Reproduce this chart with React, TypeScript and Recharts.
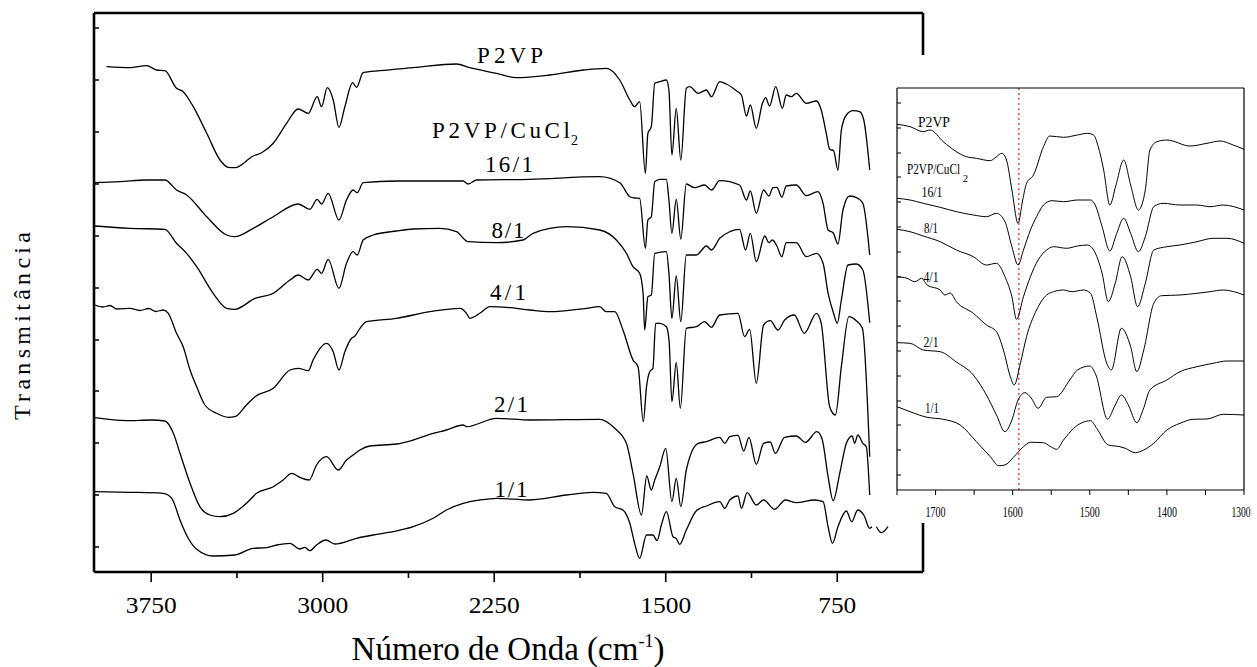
import React from 'react';
import { LineChart, Line, XAxis, YAxis, ReferenceLine } from 'recharts';

type Pt = [number, number | null];

const FONT = '"Liberation Serif", "Times New Roman", serif';

// ---------- axes ----------
const MAIN_X_TICKS = [3750, 3375, 3000, 2625, 2250, 1875, 1500, 1125, 750];
const MAIN_X_LABELS = [3750, 3000, 2250, 1500, 750];
const MAIN_Y_TICKS = [25, 77, 129, 181, 232, 284, 336, 388, 440, 492, 544];
const INSET_X_TICKS = [1750, 1700, 1650, 1600, 1550, 1500, 1450, 1400, 1350, 1300];
const INSET_X_LABELS = [1700, 1600, 1500, 1400, 1300];
const INSET_Y_TICKS = [15, 40, 65, 89, 114, 139, 164, 189, 213, 238, 263, 288, 313, 337, 362, 387];
const MARKER_WN = 1592;

// ---------- main spectra: [wavenumber cm-1, offset transmittance (a.u.)] ----------
const MAIN_P2VP: Pt[] = [[3945,505.3],[3843,504.3],[3770,506.3],[3726,502],[3690,501.3],[3639,483.7],[3610,480.3],[3566,465.3],[3507,438.7],[3449,412],[3413,404.7],[3384,404.3],[3304,416],[3267,419.3],[3216,428.7],[3158,448.7],[3107,463],[3063,458.7],[3024,475.3],[3005,465.3],[2980,484.3],[2954,472],[2929,444.7],[2903,465.3],[2869,489.3],[2852,484.7],[2823,499.3],[2750,501.3],[2604,504.3],[2415,508],[2357,504.3],[2240,498.7],[2153,494.3],[2007,497],[1861,502],[1759,503.7],[1701,492],[1657,472],[1636,465.3],[1614,470.3],[1589,398.7],[1578,438.7],[1563,445.3],[1548,488.7],[1526,490.3],[1497,492],[1486,482],[1473,417],[1454,463.7],[1434,412],[1410,483.7],[1395,485.3],[1358,478.7],[1322,482],[1300,475.3],[1264,490.3],[1235,488],[1191,481.3],[1169,477],[1147,456],[1130,467],[1104,443.7],[1077,468.7],[1063,474.3],[1046,466],[1019,485.3],[990,463.7],[973,477],[951,475.3],[929,478.7],[885,468.7],[841,471],[820,462],[798,438.7],[783,422.7],[766,421.3],[747,402],[732,442],[710,457],[681,461.3],[652,460.3],[634,452],[608,402]];

const MAIN_16_1: Pt[] = [[4000,389.3],[3886,390.3],[3770,392],[3690,392],[3639,382],[3595,377],[3507,355.3],[3420,337],[3384,335.3],[3304,343.7],[3216,355.3],[3107,368],[3056,362.7],[3024,372.7],[3005,368],[2976,378.7],[2929,352],[2896,372],[2867,382],[2849,379.3],[2823,389.3],[2677,391],[2459,391],[2386,391],[2364,388],[2327,392],[2094,392.7],[1789,395.3],[1701,389.3],[1657,375.3],[1636,374],[1614,373.7],[1589,323.7],[1578,352],[1563,355.3],[1548,390.3],[1526,392.7],[1497,392.7],[1486,372],[1473,338.7],[1454,372.7],[1434,333],[1410,388],[1374,384.3],[1330,387],[1300,382],[1264,391.3],[1177,387],[1147,372],[1130,381],[1104,358.7],[1072,382],[1049,376],[1031,384.3],[1014,384.7],[992,374.7],[973,386],[929,387],[885,376.3],[834,380.3],[812,368.7],[790,342],[768,339.3],[747,328],[725,362],[696,376],[660,373.7],[638,368.7],[608,317]];

const MAIN_8_1: Pt[] = [[3996,346],[3843,343.7],[3690,342.7],[3639,328.7],[3595,318.7],[3551,305.3],[3479,278.7],[3420,263.7],[3384,262.7],[3296,273.7],[3216,278.7],[3143,292],[3107,297],[3063,292],[3024,302.7],[3005,298.7],[2976,312.7],[2929,283.7],[2896,308.7],[2867,320.3],[2849,317],[2823,332],[2779,337],[2677,341],[2604,343],[2488,343.7],[2415,340.3],[2364,330.3],[2240,329.3],[2124,332],[2080,338.7],[1934,345.3],[1789,342],[1716,332],[1672,318.7],[1643,305.3],[1614,298.7],[1599,278.7],[1592,242],[1578,275.3],[1563,277],[1548,318.7],[1497,320.3],[1486,298.7],[1473,253.7],[1454,296],[1434,250.3],[1410,317],[1366,317],[1322,326],[1300,322],[1264,333.7],[1220,340.3],[1177,342.7],[1151,322],[1130,338.7],[1104,310.3],[1067,336],[1049,329.3],[1034,332],[1016,327],[992,315.3],[973,329.3],[929,329.3],[885,315.3],[841,318.7],[812,308.7],[790,278.7],[766,258.7],[750,248.7],[732,272],[703,307],[667,308],[638,302],[608,249.3]];

const MAIN_4_1: Pt[] = [[3996,267],[3960,265],[3930,266.5],[3900,263],[3843,263.7],[3800,261.5],[3760,263.5],[3730,260.5],[3697,262],[3675,258.7],[3639,238.7],[3610,225.3],[3580,202],[3551,185.3],[3515,167],[3464,158.7],[3413,154.7],[3384,155.3],[3333,167],[3296,175.3],[3216,183.7],[3143,202],[3107,203.7],[3063,201.3],[3042,212],[2983,228.7],[2954,220.3],[2929,202],[2903,220.3],[2874,233.7],[2859,236],[2837,243.7],[2808,250.3],[2677,253.7],[2531,260.3],[2400,263.7],[2371,258.7],[2357,253.7],[2313,258.7],[2269,265.3],[2196,264.7],[2094,262],[2007,260.3],[1847,263.7],[1789,265.3],[1760,260.3],[1723,260.3],[1687,242],[1643,212],[1621,205.3],[1598,150.3],[1584,185.3],[1570,200.3],[1556,203.7],[1544,248.7],[1526,248.7],[1497,245.3],[1485,230],[1473,170.3],[1454,209.3],[1436,163.7],[1410,243.7],[1366,245.3],[1330,250.3],[1300,244.7],[1264,257],[1184,258.7],[1155,235.3],[1133,242.7],[1104,188.7],[1072,247],[1043,251.3],[1009,242],[980,252],[938,257],[894,238.7],[841,258.7],[820,248.7],[783,165.3],[758,157],[732,205.3],[699,255.3],[667,251.3],[640,243.7],[608,115.3]];

const MAIN_2_1: Pt[] = [[3996,154.3],[3857,151.3],[3748,152],[3690,151],[3653,138.7],[3624,118.7],[3580,88.7],[3537,65.3],[3493,57],[3449,55.3],[3391,58.7],[3333,68.7],[3289,78.7],[3216,85.3],[3173,92],[3136,98.7],[3100,94.7],[3059,92],[3027,107],[2983,115.3],[2932,102],[2896,112],[2867,117],[2837,122],[2794,126],[2677,128],[2604,132],[2517,138.7],[2459,142],[2386,147],[2371,145.3],[2240,153.7],[2094,152],[1789,152.7],[1723,143.7],[1672,128.7],[1643,98.7],[1606,57],[1583,96],[1563,82],[1548,92],[1526,105.3],[1500,123.7],[1473,70.3],[1454,93.7],[1434,65.3],[1410,102],[1358,128.7],[1322,130.3],[1264,134.7],[1242,128.7],[1220,135.3],[1184,136.7],[1159,121],[1136,134.7],[1104,107.7],[1072,128.7],[1043,130],[1021,118.7],[980,134.7],[929,136],[889,129.7],[839,140.3],[816,132.7],[790,95.3],[768,71.3],[739,98.7],[710,128.7],[685,136],[674,128.7],[660,137],[638,128.7],[623,125.3],[608,77]];

const MAIN_1_1: Pt[] = [[3996,80.3],[3843,79.7],[3697,78.7],[3660,73.7],[3624,52],[3588,33.7],[3551,22.7],[3479,16],[3384,17],[3304,23.7],[3245,24.3],[3201,27],[3143,28.7],[3100,23],[3078,24.7],[3056,21.3],[3027,27],[2986,32],[2947,28],[2852,33.7],[2779,37],[2692,40.3],[2604,45.3],[2517,53.7],[2459,62],[2386,68.7],[2313,72],[2240,73.7],[2094,72],[1934,77],[1818,79.7],[1760,78.7],[1723,65.3],[1687,62],[1657,48.7],[1636,28.7],[1614,13.7],[1584,37],[1556,37],[1538,31.3],[1519,47],[1497,60.3],[1468,35.3],[1454,33.5],[1439,27.7],[1410,42],[1366,61.3],[1322,66],[1264,70.3],[1242,63.7],[1220,72],[1184,76],[1169,63.7],[1144,79.3],[1104,67],[1072,72],[1024,62.7],[977,72],[929,69.3],[849,72],[812,70.3],[790,45.3],[771,28.7],[747,45.3],[710,61],[687,50.3],[660,62],[634,57],[608,43.7],[598,45.3],[588,null],[579,45.3],[557,39.3],[528,45.3]];

// ---------- inset spectra (1750-1300 cm-1) ----------
const INSET_P2VP: Pt[] = [[1750,365.7],[1733,363.3],[1716,358.3],[1707,360],[1690,348.3],[1673,338.3],[1660,333.3],[1647,331.7],[1629,329.3],[1621,333.3],[1614,336.7],[1608,330],[1601,300],[1593,266.7],[1587,290],[1582,306.7],[1573,315],[1560,343.3],[1552,354],[1534,352.7],[1516,355],[1503,356.7],[1495,355],[1489,343.3],[1482,320],[1474,285],[1466,305],[1456,330],[1447,305],[1437,280],[1428,300],[1422,340],[1413,348.3],[1400,350],[1370,344],[1348,346.7],[1331,349],[1314,345],[1300,340.7]];

const INSET_16_1: Pt[] = [[1750,291.7],[1733,290],[1716,286.7],[1694,282.7],[1673,278.3],[1651,275],[1634,273.3],[1621,276.7],[1610,268.3],[1601,243.3],[1593,225],[1586,240],[1577,260],[1569,273.3],[1560,285],[1549,289.3],[1534,288.3],[1516,290],[1499,290],[1493,285],[1484,263.3],[1474,239],[1465,256.7],[1456,271.7],[1447,256.7],[1437,238.3],[1428,253.3],[1417,283.3],[1405,286.7],[1383,285],[1361,285],[1344,283.3],[1327,285],[1300,280]];

const INSET_8_1: Pt[] = [[1750,260.7],[1733,258.3],[1716,254],[1694,248.3],[1673,240],[1651,233.3],[1634,225],[1621,226.7],[1610,213.3],[1601,193.3],[1595,170.7],[1586,193.3],[1577,213.3],[1567,230],[1556,240],[1547,243.3],[1530,241.7],[1516,244],[1503,245],[1495,240],[1484,216.7],[1476,188.3],[1467,206.7],[1458,233.3],[1447,213.3],[1438,183.3],[1428,206.7],[1417,240],[1400,243.3],[1383,245],[1361,248.3],[1340,251.7],[1322,251.7],[1300,246.7]];

const INSET_4_1: Pt[] = [[1750,213.3],[1737,211.7],[1727,208.3],[1718,211.7],[1711,205],[1694,200],[1688,195],[1681,197],[1673,188.3],[1651,176.7],[1634,165],[1621,158.3],[1612,140],[1603,113.3],[1598,105],[1590,126.7],[1582,153.3],[1569,180],[1556,195],[1547,198.3],[1534,200],[1523,198.3],[1508,200],[1499,196.7],[1491,173.3],[1478,126.7],[1472,120],[1459,161.7],[1447,143.3],[1439,118.3],[1430,140],[1417,186.7],[1407,194.3],[1383,195],[1361,196.7],[1344,198.3],[1327,200],[1300,195]];

const INSET_2_1: Pt[] = [[1750,147.3],[1733,146.7],[1716,140],[1694,138.3],[1673,128],[1651,115],[1634,95],[1621,75],[1610,58.3],[1601,70],[1593,90],[1584,97.3],[1576,92],[1567,81.7],[1556,92.7],[1543,93.3],[1526,110],[1516,120],[1500,124],[1492,115],[1477,71],[1467,85],[1459,95],[1450,85],[1439,67.3],[1431,80],[1422,100],[1400,110],[1383,118.3],[1361,123.3],[1340,126.7],[1322,129],[1300,129]];

const INSET_1_1: Pt[] = [[1750,83.3],[1733,78.3],[1711,72.7],[1690,70.7],[1668,65],[1647,48.3],[1629,33.3],[1618,24.3],[1610,25],[1599,32.7],[1586,43.3],[1577,47.7],[1560,47.3],[1552,44],[1543,40.7],[1534,50],[1521,61.7],[1510,67.3],[1499,69.3],[1491,61.7],[1476,45],[1461,43.3],[1454,41.7],[1441,37.3],[1430,40],[1417,46.7],[1400,60],[1383,66.7],[1366,70.7],[1348,71],[1327,75.7],[1300,75]];

const MAIN_SERIES = [MAIN_P2VP, MAIN_16_1, MAIN_8_1, MAIN_4_1, MAIN_2_1, MAIN_1_1];
const INSET_SERIES = [INSET_P2VP, INSET_16_1, INSET_8_1, INSET_4_1, INSET_2_1, INSET_1_1];

const rows = (pts: Pt[]) => pts.map(([wn, t]) => ({ wn, t }));

// ---------- text labels (layout) ----------
const MAIN_LABELS = [
  { text: 'P2VP', x: 510, y: 63, w: 66 },
  { text: '16/1', x: 509, y: 172, w: 48 },
  { text: '8/1', x: 508, y: 238, w: 33 },
  { text: '4/1', x: 508, y: 300, w: 36 },
  { text: '2/1', x: 511, y: 412, w: 34 },
  { text: '1/1', x: 511, y: 497, w: 33 },
];
const INSET_LABELS = [
  { text: 'P2VP', x: 934, y: 127, w: 32 },
  { text: '16/1', x: 932, y: 197, w: 21 },
  { text: '8/1', x: 931, y: 233, w: 14 },
  { text: '4/1', x: 931, y: 282, w: 15 },
  { text: '2/1', x: 931, y: 347, w: 15 },
  { text: '1/1', x: 932, y: 413, w: 14 },
];

const MainXTick = (props: any) => {
  const { x, y, payload } = props;
  const v = payload.value as number;
  const major = MAIN_X_LABELS.includes(v);
  const s = String(v);
  return (
    <g>
      <line x1={x} x2={x} y1={y} y2={y + (major ? 10 : 6)} stroke="#000" strokeWidth={1.6} />
      {major && (
        <text x={x} y={y + 41} textAnchor="middle" fontFamily={FONT} fontSize={23} fill="#000"
          textLength={s.length === 4 ? 51 : 38} lengthAdjust="spacingAndGlyphs">{s}</text>
      )}
    </g>
  );
};

const InsetXTick = (props: any) => {
  const { x, y, payload } = props;
  const v = payload.value as number;
  if (!INSET_X_LABELS.includes(v)) return <g />;
  return (
    <text x={v === 1300 ? x - 3 : x} y={y + 20} textAnchor="middle" fontFamily={FONT} fontSize={15} fill="#000"
      textLength={v === 1300 ? 19 : 20} lengthAdjust="spacingAndGlyphs">{String(v)}</text>
  );
};

const blank = () => '';

export default function App() {
  return (
    <div style={{ position: 'absolute', left: 0, top: 0, width: 1257, height: 667, background: '#fff', overflow: 'hidden' }}>
      <div style={{ position: 'absolute', left: 0, top: 0 }}>
        <LineChart width={940} height={667} margin={{ top: 12, right: 16, bottom: 55, left: 94 }}>
          <XAxis xAxisId="b" dataKey="wn" type="number" domain={[375, 4000]} reversed allowDataOverflow
            ticks={MAIN_X_TICKS} interval={0} tickSize={0} tickMargin={0} tickLine={false}
            tick={MainXTick} axisLine={{ stroke: '#000', strokeWidth: 2.6 }} height={40} />
          <XAxis xAxisId="t" orientation="top" dataKey="wn" type="number" domain={[375, 4000]} reversed allowDataOverflow
            tick={false} tickLine={false} axisLine={{ stroke: '#000', strokeWidth: 2.6 }} height={1} />
          <YAxis yAxisId="l" type="number" domain={[0, 559]} allowDataOverflow ticks={MAIN_Y_TICKS} interval={0}
            width={1} mirror tickSize={5} tickFormatter={blank} tickLine={{ stroke: '#000', strokeWidth: 1.5 }}
            axisLine={{ stroke: '#000', strokeWidth: 2.6 }} />
          <YAxis yAxisId="r" orientation="right" type="number" domain={[0, 559]} width={1}
            tick={false} tickLine={false} axisLine={{ stroke: '#000', strokeWidth: 2.6 }} />
          {MAIN_SERIES.map((s, i) => (
            <Line key={i} xAxisId="b" yAxisId="l" data={rows(s)} dataKey="t" type="monotone" stroke="#000"
              strokeWidth={1.3} dot={false} activeDot={false} isAnimationActive={false} connectNulls={false} />
          ))}
        </LineChart>
      </div>

      <div style={{ position: 'absolute', left: 890, top: 55, width: 367, height: 468, background: '#fff' }}>
        <LineChart width={367} height={468} margin={{ top: 32, right: 12, bottom: 3, left: 7 }}>
          <XAxis xAxisId="b" dataKey="wn" type="number" domain={[1300, 1750]} reversed allowDataOverflow
            ticks={INSET_X_TICKS} interval={0} tickSize={5} tickLine={{ stroke: '#000', strokeWidth: 1 }}
            tick={InsetXTick} axisLine={{ stroke: '#000', strokeWidth: 1.2 }} height={30} />
          <XAxis xAxisId="t" orientation="top" dataKey="wn" type="number" domain={[1300, 1750]} reversed allowDataOverflow
            tick={false} tickLine={false} axisLine={{ stroke: '#000', strokeWidth: 1.2 }} height={1} />
          <YAxis yAxisId="l" type="number" domain={[0, 402]} allowDataOverflow ticks={INSET_Y_TICKS} interval={0}
            width={1} mirror tickSize={4} tickFormatter={blank} tickLine={{ stroke: '#000', strokeWidth: 1 }}
            axisLine={{ stroke: '#000', strokeWidth: 1.2 }} />
          <YAxis yAxisId="r" orientation="right" type="number" domain={[0, 402]} width={1}
            tick={false} tickLine={false} axisLine={{ stroke: '#000', strokeWidth: 1.2 }} />
          <ReferenceLine xAxisId="b" yAxisId="l" x={MARKER_WN} stroke="#e8423a" strokeWidth={1.4} strokeDasharray="2 3" />
          {INSET_SERIES.map((s, i) => (
            <Line key={i} xAxisId="b" yAxisId="l" data={rows(s)} dataKey="t" type="monotone" stroke="#000"
              strokeWidth={1} dot={false} activeDot={false} isAnimationActive={false} />
          ))}
        </LineChart>
      </div>

      <svg width={1257} height={667} style={{ position: 'absolute', left: 0, top: 0, pointerEvents: 'none' }}>
        {MAIN_LABELS.map((l) => (
          <text key={l.text + l.y} x={l.x} y={l.y} textAnchor="middle" fontFamily={FONT} fontSize={23}
            textLength={l.w} lengthAdjust="spacing" fill="#000">{l.text}</text>
        ))}
        <text x={432} y={138} fontFamily={FONT} fontSize={23} textLength={138} lengthAdjust="spacing" fill="#000">P2VP/CuCl</text>
        <text x={571} y={145} fontFamily={FONT} fontSize={14} fill="#000">2</text>

        {INSET_LABELS.map((l) => (
          <text key={l.text + l.y} x={l.x} y={l.y} textAnchor="middle" fontFamily={FONT} fontSize={14}
            textLength={l.w} lengthAdjust="spacingAndGlyphs" fill="#000">{l.text}</text>
        ))}
        <text x={907} y={174} fontFamily={FONT} fontSize={14} textLength={53} lengthAdjust="spacingAndGlyphs" fill="#000">P2VP/CuCl</text>
        <text x={963} y={182} fontFamily={FONT} fontSize={10} fill="#000">2</text>

        <text x={30} y={326} transform="rotate(-90 30 326)" textAnchor="middle" fontFamily={FONT} fontSize={24}
          textLength={188} lengthAdjust="spacing" fill="#000">Transmitância</text>
        <text x={508} y={660} textAnchor="middle" fontFamily={FONT} fontSize={33} fill="#000">
          Número de Onda (cm<tspan dy={-13} fontSize={18}>-1</tspan><tspan dy={13}>)</tspan>
        </text>
      </svg>
    </div>
  );
}
